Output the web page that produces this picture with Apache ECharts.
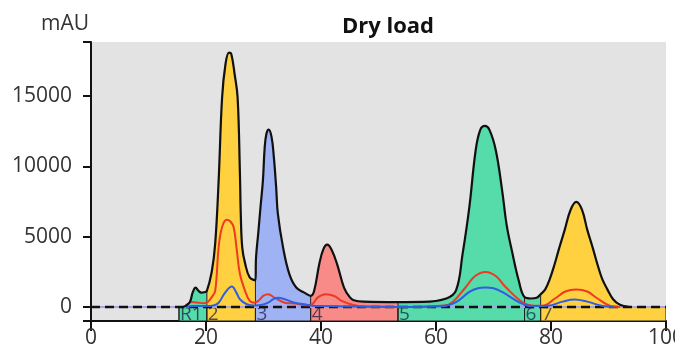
<!DOCTYPE html>
<html>
<head>
<meta charset="utf-8">
<script src="https://cdn.jsdelivr.net/npm/echarts@6/dist/echarts.min.js"></script>
<style>
  html, body { margin: 0; padding: 0; background: #fff; }
  #chart { width: 687px; height: 355px; }
</style>
</head>
<body>
<div id="chart"></div>
<script>
// main UV trace (min, mAU)
const TRACE = [
  [16.0, 0], [16.5, 100], [17.2, 350], [17.7, 1050], [18.2, 1380], [18.7, 1150], [19.2, 1020], [19.7, 1050],
  [20.15, 1150], [21.0, 2500], [21.6, 4500], [22.2, 9000], [22.8, 14900], [23.4, 17300], [24.0, 18100],
  [24.4, 18000], [25.0, 16500], [25.5, 14900], [25.9, 9500], [26.05, 6600], [26.3, 4240], [26.8, 3100],
  [27.6, 2100], [28.6, 1900], [28.7, 3500], [29.1, 5300], [29.5, 7200], [29.9, 9000], [30.2, 11300],
  [30.5, 12300], [30.9, 12620], [31.4, 12100], [31.8, 10660], [32.2, 8520], [32.5, 6620], [33.4, 4240],
  [34.5, 2340], [35.7, 1380], [37.1, 1020], [38.2, 790], [38.8, 1140], [39.7, 3050], [40.4, 4100],
  [41.1, 4430], [41.8, 4100], [42.8, 3050], [44.0, 1380], [45.0, 700], [45.7, 480], [47.4, 380],
  [53.4, 350], [57.7, 360], [61.8, 600], [63.5, 1190], [64.6, 3700], [65.8, 7100], [66.9, 11150],
  [67.7, 12600], [68.5, 12880], [69.3, 12600], [70.4, 11150], [71.5, 8300], [72.3, 5800], [73.2, 4000],
  [74.4, 1860], [75.4, 700], [76.5, 600], [77.5, 650], [78.2, 900], [79.0, 1250], [79.8, 2000],
  [80.6, 3000], [81.4, 4150], [82.4, 5500], [83.4, 6900], [84.4, 7470], [85.4, 6900], [86.3, 5500],
  [87.3, 4150], [88.1, 3000], [88.9, 2000], [89.8, 1250], [90.8, 550], [92.0, 150], [93.5, 0]
];
const RED_TRACE = [
  [16.5, 50], [17.5, 350], [18.5, 320], [19.5, 260], [20.3, 350], [21.0, 700], [21.6, 1140], [22.2, 4240],
  [22.8, 5690], [23.6, 6210], [24.2, 6100], [24.8, 5690], [25.3, 4240], [25.9, 2340], [26.8, 1140],
  [27.6, 430], [28.4, 300], [29.1, 430], [30.0, 800], [30.8, 900], [31.9, 660], [33.7, 300], [35.4, 240],
  [37.7, 120], [38.5, 200], [39.4, 660], [40.8, 900], [42.3, 780], [43.5, 450], [45.5, 150], [47.5, 30],
  [55, 0], [61.5, 100], [62.9, 350], [65.2, 1420], [66.8, 2200], [68.6, 2490], [70.4, 2200], [72.1, 1420],
  [75.0, 350], [77.0, 80], [78.5, 80], [80.7, 600], [82.5, 1100], [84.4, 1240], [86.3, 1100], [88.1, 600],
  [90.4, 60], [92, 0]
];
const BLUE_TRACE = [
  [16.5, 0], [18, 60], [20, 60], [21.3, 100], [22.2, 300], [23.3, 1000], [24.5, 1450], [25.3, 1000],
  [25.9, 550], [27.1, 190], [28.5, 100], [29.8, 150], [30.8, 300], [31.7, 550], [32.5, 660], [33.7, 550],
  [35.4, 300], [37.1, 190], [38.5, 80], [40, 60], [45, 30], [55, 0], [61, 50], [63.5, 350], [65.8, 1070],
  [67.3, 1330], [68.6, 1380], [70, 1330], [71.5, 1070], [74.4, 350], [76.5, 60], [79.5, 80], [82, 380],
  [84.1, 530], [86.3, 380], [88.8, 80], [91, 0]
];
const BASELINE = [[0, 0], [100, 0]];

// fractions
const FRAC_LABELS = ["R1", "2", "3", "4", "5", "6", "7"];
const FRAC_START = [15.3, 20.15, 28.6, 38.2, 53.4, 75.4, 78.2];
const FRAC_END = [20.15, 28.6, 38.2, 53.4, 75.4, 78.2, 100];

const Y_MIN = -1000;
const Y_MAX = 18850;
const Y_LABELS = [0, 5000, 10000, 15000];
const Y_TICKS = [Y_MIN, 0, 5000, 10000, 15000, Y_MAX];

const FRAC_COLORS = ["#56dbaa", "#ffd03f", "#9fb2f3", "#f88b88", "#56dbaa", "#56dbaa", "#ffd03f"];
const FONT = '"Open Sans", "DejaVu Sans", sans-serif';
const SMOOTH = 0.4;

function curveAt(x) {
  const p = TRACE.find(d => d[0] === x);
  return p ? p[1] : 0;
}

function renderFraction(params, api) {
  const i = params.dataIndex;
  const s = api.value(0), e = api.value(1), top = api.value(2);
  const p0 = api.coord([s, 0]);
  const p1 = api.coord([e, Y_MIN]);
  const pt = api.coord([s, top]);
  return {
    type: "group",
    children: [
      { type: "rect", shape: { x: p0[0], y: p0[1], width: p1[0] - p0[0], height: p1[1] - p0[1] },
        style: { fill: FRAC_COLORS[i], stroke: "#222", lineWidth: 1 } },
      { type: "line", shape: { x1: pt[0], y1: pt[1], x2: pt[0], y2: p1[1] },
        style: { stroke: "#222", lineWidth: 1 } },
      { type: "text", x: p0[0] + 1, y: (p0[1] + p1[1]) / 2 + 1,
        style: { text: FRAC_LABELS[i], font: "19px " + FONT, fill: "rgba(20,20,60,0.7)", verticalAlign: "middle" } }
    ]
  };
}

const fillSeries = FRAC_START.map((s, i) => ({
  type: "line",
  data: TRACE.filter(d => d[0] >= s && d[0] <= FRAC_END[i]),
  smooth: SMOOTH,
  symbol: "none",
  lineStyle: { width: 0 },
  areaStyle: { color: FRAC_COLORS[i], opacity: 1 },
  z: 1,
  silent: true
}));

const chart = echarts.init(document.getElementById("chart"));
chart.setOption({
  animation: false,
  title: {
    text: "Dry load",
    left: 383,
    textAlign: "center",
    top: 11,
    textStyle: { fontSize: 22, fontWeight: "bold", color: "#111", fontFamily: FONT }
  },
  grid: { left: 91, right: 15, top: 42, bottom: 34, show: true, backgroundColor: "#e3e3e3", borderWidth: 0 },
  graphic: [
    // the source image is cut off just right of the plot
    { type: "rect", right: 0, top: 0, shape: { width: 12, height: 355 }, style: { fill: "#fff" }, z: 100 }
  ],
  xAxis: {
    type: "value", min: 0, max: 100, interval: 20,
    axisLine: { onZero: false, lineStyle: { color: "#111", width: 2 } },
    axisTick: { length: 10, lineStyle: { color: "#111", width: 2 } },
    axisLabel: { fontSize: 21, color: "#333", margin: 7, fontFamily: FONT },
    splitLine: { show: false }
  },
  yAxis: {
    type: "value", min: Y_MIN, max: Y_MAX,
    name: "mAU",
    nameLocation: "end",
    nameGap: 7,
    nameTextStyle: { fontSize: 21, color: "#333", align: "right", padding: [0, 2, 0, 0], fontFamily: FONT },
    axisLine: { show: true, lineStyle: { color: "#111", width: 2 } },
    axisTick: { show: true, length: 8, customValues: Y_TICKS, lineStyle: { color: "#111", width: 2 } },
    axisLabel: { fontSize: 21, color: "#333", margin: 19, customValues: Y_LABELS, fontFamily: FONT, formatter: v => String(v) },
    splitLine: { show: false }
  },
  series: [
    ...fillSeries,
    {
      type: "custom",
      renderItem: renderFraction,
      data: FRAC_START.map((s, i) => [s, FRAC_END[i], curveAt(s)]),
      encode: { x: [0, 1], y: 2 },
      clip: true,
      z: 2,
      silent: true
    },
    { type: "line", data: BASELINE, symbol: "none", lineStyle: { color: "#a9a3e6", width: 2 }, z: 3, silent: true },
    { type: "line", data: BASELINE, symbol: "none", lineStyle: { color: "#111", width: 2.5, type: [9, 5] }, z: 3, silent: true },
    { type: "line", data: RED_TRACE, smooth: SMOOTH, symbol: "none", lineStyle: { color: "#ee3a22", width: 2 }, z: 4, silent: true },
    { type: "line", data: BLUE_TRACE, smooth: SMOOTH, symbol: "none", lineStyle: { color: "#2f5fe0", width: 2 }, z: 4, silent: true },
    { type: "line", data: TRACE, smooth: SMOOTH, symbol: "none", lineStyle: { color: "#111", width: 2.2 }, z: 5, silent: true }
  ]
});
</script>
</body>
</html>
